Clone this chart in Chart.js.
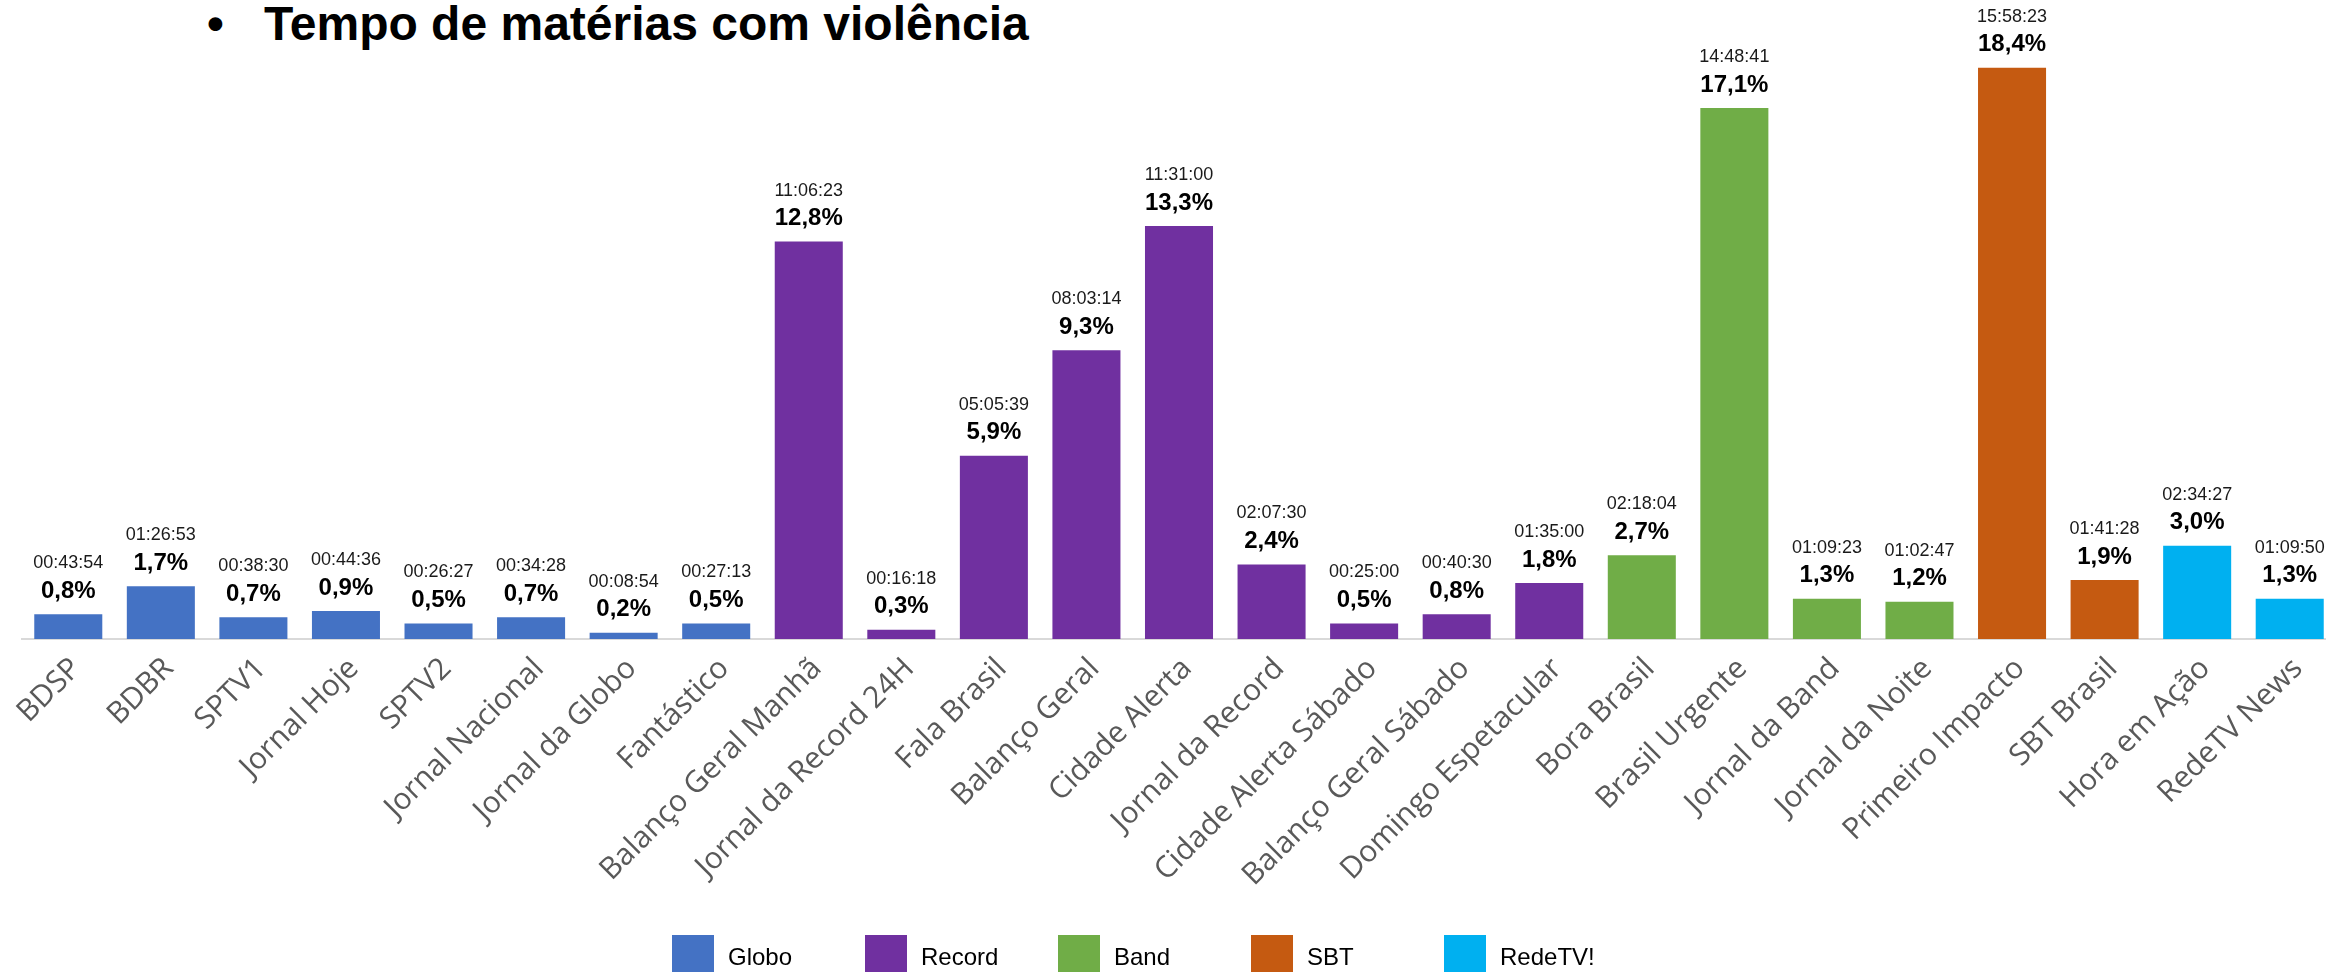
<!DOCTYPE html>
<html lang="pt-BR">
<head>
<meta charset="utf-8">
<script src="https://cdn.jsdelivr.net/npm/chart.js@4.4.1/dist/chart.umd.min.js"></script>
<style>
  body { margin: 0; width: 2326px; height: 972px; overflow: hidden; background: #fff; position: relative; font-family: "Liberation Sans", Arial, sans-serif; }
  #wrap { position: absolute; left: 0; top: 0; width: 2336px; height: 972px; }
  .titulo { position: absolute; top: 0; height: 48px; line-height: 48px; font-size: 48px; font-weight: bold; color: #000; white-space: nowrap; }
  .leg { position: absolute; top: 935px; height: 40px; }
  .leg span.box { position: absolute; left: 0; top: 0; width: 42px; height: 40px; }
  .leg span.txt { position: absolute; left: 56px; top: 9px; font-size: 24px; line-height: 26px; color: #000; white-space: nowrap; }
</style>
</head>
<body>
<div class="titulo" style="left:207px">•</div>
<div class="titulo" style="left:264px">Tempo de matérias com violência</div>
<div id="wrap"><canvas id="grafico"></canvas></div>
<div id="legenda"></div>
<script>
// Programas e emissoras
const programas = [
  "BDSP", "BDBR", "SPTV1", "Jornal Hoje", "SPTV2", "Jornal Nacional", "Jornal da Globo", "Fantástico",
  "Balanço Geral Manhã", "Jornal da Record 24H", "Fala Brasil", "Balanço Geral", "Cidade Alerta",
  "Jornal da Record", "Cidade Alerta Sábado", "Balanço Geral Sábado", "Domingo Espetacular",
  "Bora Brasil", "Brasil Urgente", "Jornal da Band", "Jornal da Noite",
  "Primeiro Impacto", "SBT Brasil",
  "Hora em Ação", "RedeTV News"
]
const emissoraDoPrograma = [0, 0, 0, 0, 0, 0, 0, 0, 1, 1, 1, 1, 1, 1, 1, 1, 1, 2, 2, 2, 2, 3, 3, 4, 4]

// Percentual do tempo com violência
const percentual = [0.8, 1.7, 0.7, 0.9, 0.5, 0.7, 0.2, 0.5, 12.8, 0.3, 5.9, 9.3, 13.3, 2.4, 0.5, 0.8, 1.8, 2.7, 17.1, 1.3, 1.2, 18.4, 1.9, 3.0, 1.3]

// Tempo total das matérias
const tempo = [
  "00:43:54", "01:26:53", "00:38:30", "00:44:36", "00:26:27", "00:34:28", "00:08:54", "00:27:13",
  "11:06:23", "00:16:18", "05:05:39", "08:03:14", "11:31:00", "02:07:30", "00:25:00", "00:40:30", "01:35:00",
  "02:18:04", "14:48:41", "01:09:23", "01:02:47",
  "15:58:23", "01:41:28",
  "02:34:27", "01:09:50"
]

const emissoras = ["Globo", "Record", "Band", "SBT", "RedeTV!"]
const cores = ["#4472C4", "#7030A0", "#70AD47", "#C55A11", "#00B0F0"]

const fonte = '"Liberation Sans", Arial, sans-serif'

// Rótulos acima das barras (tempo + percentual)
const rotulos = {
  id: "rotulos",
  afterDatasetsDraw(chart) {
    const ctx = chart.ctx
    const meta = chart.getDatasetMeta(0)
    ctx.save()
    ctx.textAlign = "center"
    ctx.textBaseline = "middle"
    meta.data.forEach((bar, i) => {
      ctx.fillStyle = "#000"
      ctx.font = "bold 24px " + fonte
      ctx.fillText(percentual[i].toFixed(1).replace(".", ",") + "%", bar.x, bar.y - 23)
      ctx.fillStyle = "#1a1a1a"
      ctx.font = "18px " + fonte
      ctx.fillText(tempo[i], bar.x, bar.y - 51)
    })
    ctx.restore()
  },
}

new Chart(document.getElementById("grafico"), {
  type: "bar",
  data: {
    labels: programas,
    datasets: [
      {
        data: percentual,
        backgroundColor: emissoraDoPrograma.map((e) => cores[e]),
        barPercentage: 0.735,
        categoryPercentage: 1,
      },
    ],
  },
  options: {
    responsive: true,
    maintainAspectRatio: false,
    animation: false,
    layout: { padding: { top: 18, left: 22, right: 0, bottom: 0 } },
    plugins: {
      legend: { display: false },
      tooltip: { enabled: false },
    },
    scales: {
      y: { display: false, min: 0, max: 20 },
      x: {
        grid: { display: false },
        border: { color: "#D9D9D9", width: 2 },
        ticks: {
          color: "#595959",
          font: { family: '"Open Sans", sans-serif', size: 30 },
          maxRotation: 45,
          minRotation: 45,
          autoSkip: false,
          padding: 4,
          labelOffset: 8,
        },
        afterFit: (axis) => {
          axis.height = 333
        },
      },
    },
  },
  plugins: [rotulos],
})

// Legenda
const legenda = document.getElementById("legenda")
emissoras.forEach((nome, i) => {
  const item = document.createElement("div")
  item.className = "leg"
  item.style.left = 672 + i * 193 + "px"
  item.innerHTML = '<span class="box" style="background:' + cores[i] + '"></span><span class="txt">' + nome + "</span>"
  legenda.appendChild(item)
})
</script>
</body>
</html>
